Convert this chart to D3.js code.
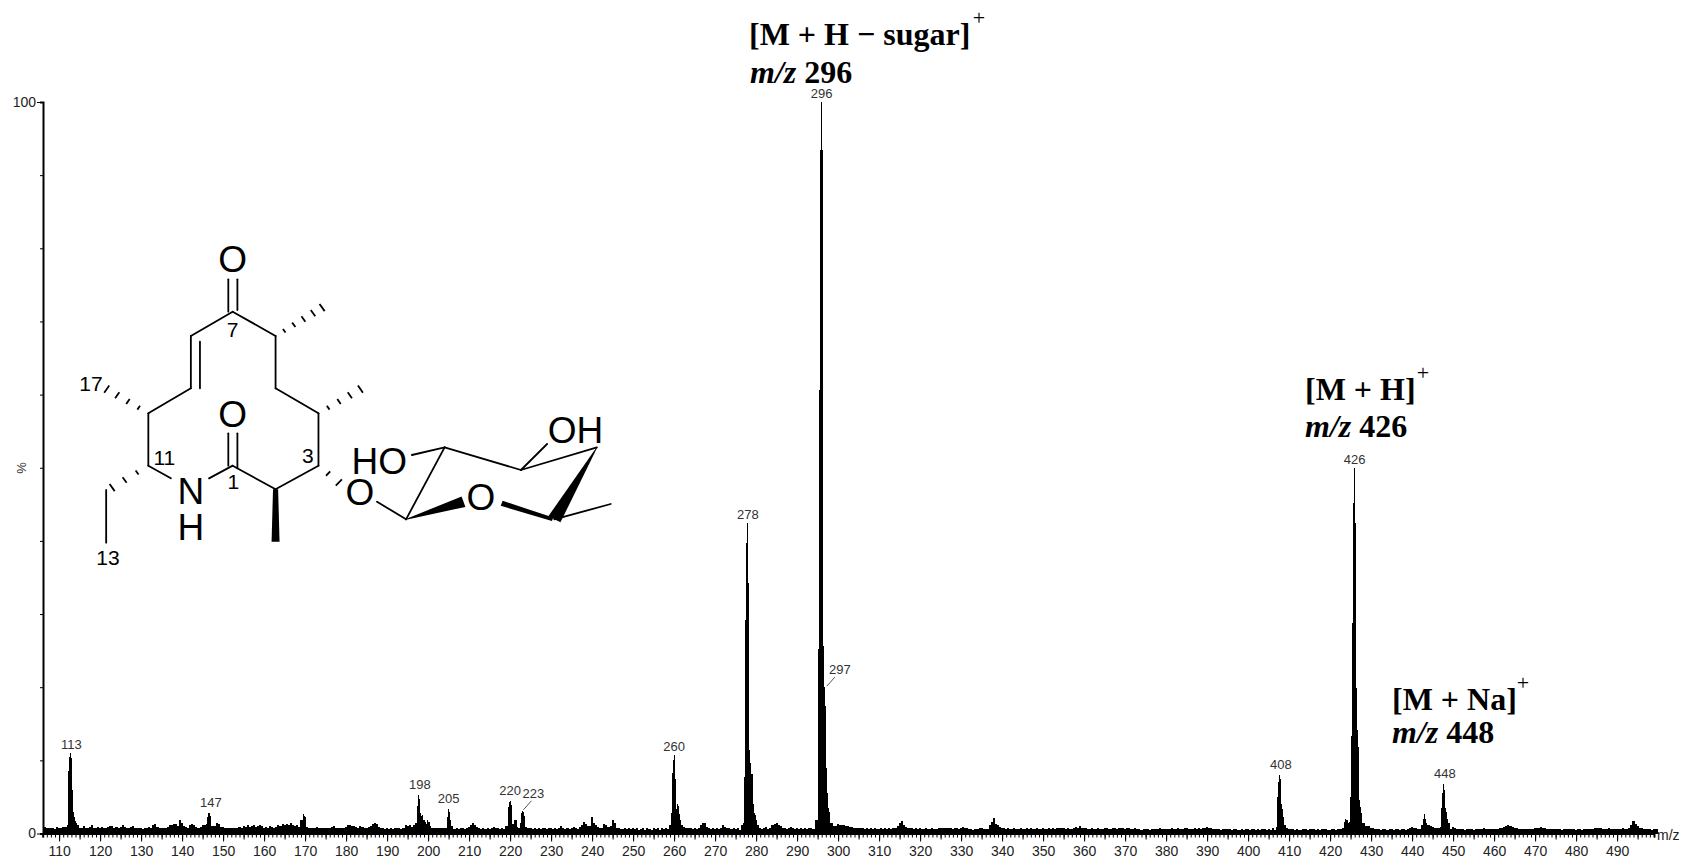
<!DOCTYPE html>
<html>
<head>
<meta charset="utf-8">
<title>MS spectrum</title>
<script src="https://cdn.jsdelivr.net/npm/d3@7"></script>
<style>
html, body { margin: 0; background: #fff; }
svg { display: block; }
text { font-family: "Liberation Sans", Arial, sans-serif; }
.note { font-family: "Liberation Serif", "Times New Roman", serif; font-size: 32px; font-weight: bold; fill: #000; }
.note .it { font-style: italic; }
.plus { font-family: "Liberation Serif", serif; font-size: 22px; fill: #000; text-anchor: middle; }
.axis text { font-size: 14px; fill: #222; }
.axis line, .axis path { stroke: #000; }
.peak-label { font-size: 13px; fill: #333; text-anchor: middle; }
.mol { font-size: 37px; fill: #000; text-anchor: middle; }
.mol-num { font-size: 21px; fill: #000; text-anchor: middle; }
</style>
</head>
<body>
<svg id="chart" width="1684" height="859"></svg>
<script>
var width = 1684,
    height = 859;

// spectrum background, one value per 0.5 m/z starting at 106, 10 m/z to a row
var profileStart = 106;
var profile = [
 .6,.9,.7,.8,.7,.8,.6,.9,
 .8,.7,.9,.7,1, .8,.9,.7,.8,.9, .8,.7,1,.8,.7, .9,1.2,.8,.7,.9,
 .8,.9,.8,.7,.9, 1,1,.8,.9,.7, .9,1.1,.9,.8,.7, .9,1,.7,.8,.7,
 .7,.6,.8,.8,.9, .8,1.2,1.3,.9,.7, .8,.7,.8,.9,1.1, 1.2,1.3,1.3,1,1.8,
 1.5,1,.9,.8,1.2, 1.3,1.2,.9,.8,.9, 1.1,1.2,1.3,1.4,1.4, .9,1,1.4,1.3,.9,
 .9,.8,.7,.8,.7, .8,.7,.8,.9,.8, 1,.9,1.1,.9,1, 1.1,.9,1,1.1,1,
 .8,.9,.8,1,.9, .8,.9,1.1,1,1.3, 1.1,1.3,1.2,1.4,1.2, 1,1.1,.9,1.2,1.7,
 .9,.7,.8,.7,.8, .7,.9,.7,.8,.7, .8,.7,.8,.9,1, .7,.7,.8,.7,.8,
 .9,1.2,1.1,1,1, .9,.8,1,.9,.8, .7,.9,1,1.3,1.4, 1.3,.9,.7,.7,.6,
 .7,.6,.7,.6,.7, .8,.7,.6,.8,1.1, 1,1.2,.9,1.2,1.5, 1.6,.9,.7,.7,.9,
 1.2,.9,.7,.8,.7, .8,.7,.7,.8,1.2, 1.4,1,.7,.6,.7, .6,.7,.8,.6,.7,
 .9,1.1,1.5,1.1,.9, .7,.6,.7,.6,.7, .6,.7,.9,.8,.7, .6,.7,.6,.7,.8,
 .8,.9,.8,.8,.8, .8,.8,.8,.8,.7, .7,.6,.7,.6,.7, .6,.7,.8,.6,.7,
 .7,.6,.7,.6,.7, 1,.8,.6,.7,.6, .7,.9,.8,.6,.9, 1.2,1.6,1.3,1,1,
 2.2,1.5,1.1,.9,.7, .8,1.3,1.1,.9,1, 1.9,1.5,.8,.7,.6, .6,.7,.6,.7,.6,
 .7,.6,.7,.5,.6, .7,.5,.7,.6,.5, .7,.6,.7,.5,.8, .6,.7,.6,.5,.7,
 1,1,1,1,1, .9,.8,.7,.8,.6, .7,.6,.7,1.1,1.4, 1.4,.9,.7,.6,.7,
 .6,.7,.6,.7,1.1, .9,.8,.7,.6,.7, .6,.7,.5,.6,.7, .6,.7,.6,.8,1,
 1,.8,.7,.6,.8, .9,.6,.7,1.1,1.3, 1.4,1.2,1,.8,.7, .6,.7,.9,.8,.6,
 .7,.6,.7,.6,.7, .6,.8,.7,.6,.8, 1,1,1,1,1, 1,1,1,1,1,
 1.3,1.2,1.2,1.1,1, 1,.9,.9,.8,.8, .7,.8,.7,.6,.7, .6,.7,.6,.7,.6,
 .6,.7,.6,.7,.6, .7,.6,.8,.8,1, 1.5,1.7,1.2,.9,.8, .8,.7,.6,.7,.6,
 .7,.6,.6,.7,.6, .6,.7,.6,.6,.7, .8,.8,.7,.8,.7, .7,.6,.7,.7,.6,
 .8,.9,.8,.7,.6, .6,.5,.6,.6,.8, .7,.6,.6,.6,1.1, 1.6,2.1,1.3,1.1,.9,
 .8,.7,.6,.7,.6, .6,.7,.6,.6,.7, .6,.6,.7,.6,.7, .6,.6,.7,.6,.6,
 .7,.6,.6,.7,.6, .7,.6,.8,.7,.7, .7,.6,.7,.6,.6, .7,.9,.7,1,.8,
 .7,.7,.6,.6,.7, .6,.6,.7,.6,.6, .7,.7,.6,.6,.8, .7,.6,.7,.8,.7,
 .6,.7,.7,.6,.6, .7,.6,.6,.5,.6, .6,.6,.5,.6,.6, .6,.6,.7,.6,.6,
 .6,.6,.6,.7,.6, .6,.7,.6,.6,.7, .7,.6,.6,.6,.7, .6,.7,.6,.8,.8,
 .9,.8,.7,.6,.6, .6,.6,.5,.6,.6, .6,.6,.5,.6,.6, .5,.5,.6,.5,.6,
 .6,.5,.6,.6,.5, .6,.5,.6,.6,.5, .6,.5,.7,.5,.6, .6,.5,.6,.7,.7,
 .6,.6,.6,.5,.6, .5,.5,.6,.6,.5, .6,.6,.6,.5,.6, .5,.6,.6,.6,.5,
 .5,.6,.6,.5,.6, .6,.7,.8,.8,1, 1,1,1,1,1, 1,1,1,1,1,
 .8,.7,.6,.6,.6, .5,.6,.6,.5,.6, .6,.5,.6,.6,.5, .6,.6,.5,.6,.8,
 .9,.8,.7,.6,.6, .6,.7,.6,.6,.6, .9,.8,.7,.7,.6, .8,.6,.6,.6,.6,
 .9,.7,.6,.6,.6, .6,.5,.6,.6,.6, .5,.6,.6,.6,.6, .7,.6,.6,.6,.6,
 .6,.6,.6,.7,.7, .9,1,1.1,1,.9, .8,.7,.6,.6,.6, .6,.6,.6,.6,.6,
 .7,.8,.8,.9,.8, .7,.6,.6,.6,.6, .6,.6,.6,.5,.6, .6,.6,.6,.6,.6,
 .5,.6,.6,.5,.6, .6,.6,.6,.6,.7, .8,.7,.7,.6,.6, .6,.7,.6,.6,.6,
 .6,.6,.6,.7,.6, .6,.8,1.1,1.7,1.3, 1,.8,.7,.6,.6, .6,.6,.5,.6,.6,
 .6
];

// sharper peaks, read at 0.25 m/z
var peakMz = [
 111.75,112,112.25,112.5,112.75,113,113.25,113.5,113.75,114,114.25,114.5,
 146,146.25,146.5,146.75,147,147.25,
 169.25,169.5,169.75,170,170.25,
 197.25,197.5,197.75,198,198.25,198.5,198.75,199,199.25,199.5,199.75,200,200.25,200.5,
 204.5,204.75,205,205.25,205.5,205.75,
 219.25,219.5,219.75,220,220.25,220.5,220.75,221,221.25,221.5,221.75,222,222.25,222.5,222.75,223,223.25,223.5,223.75,
 259,259.25,259.5,259.75,260,260.25,260.5,260.75,261,261.25,261.5,261.75,262,
 276.75,277,277.25,277.5,277.75,278,278.25,278.5,278.75,279,279.25,279.5,279.75,280,280.25,
 294.75,295,295.25,295.5,295.75,296,296.25,296.5,296.75,297,297.25,297.5,297.75,298,298.25,298.5,
 407,407.25,407.5,407.75,408,408.25,408.5,408.75,409,
 423.25,423.5,423.75,424,424.5,424.75,425,425.25,425.5,425.75,426,426.25,426.5,426.75,427,427.25,427.5,427.75,428,428.25,
 442.5,442.75,443,443.25,443.5,444,444.5,
 447,447.25,447.5,447.75,448,448.25,448.5,448.75,449
];
var peakInt = [
 .9,1.2,8.5,10.5,11,10.3,6,3,2.2,1.7,1.4,1.2,
 1.3,2.2,2.8,2.8,2.4,1,
 1.8,2.6,2.4,2.2,.9,
 1.4,3.8,5.3,4.7,2.8,2.4,2.5,1.9,1.6,1.3,1.8,1.6,1.6,1,
 .7,2.2,3.4,3,1.8,1,
 1,3.6,4.3,4.5,3.9,1.3,1.3,1.8,1.9,1.9,.9,.7,.8,1.5,2.8,3.1,3,2.4,.9,
 1.1,2.8,8.3,10,10.7,7.5,3.4,4,3.8,2.6,1.8,1.1,1.1,
 1.2,1.5,7.7,29.2,39.7,42.4,34.2,11.4,9.6,8.2,4,2.8,2.5,1.8,1.2,
 1.9,1.9,25.2,60.6,93.4,100,93.4,25.6,20,17.4,9,5.5,3.5,3,1.5,1.4,
 .9,5,7,8,7.5,4,3.4,2.2,1.2,
 .8,1.6,2,1.8,1.5,1.6,5,13.3,28.8,45.2,50,42.4,19.9,14.2,11.8,4.6,3.6,2.8,1.5,1.4,
 1.1,2,2.6,2,1.4,1.2,1,
 .9,3.5,5.5,6.7,6,3.5,3,2,1.4
];

var xTickValues = d3.range(110, 500, 10);
var yTickValues = d3.range(0, 101, 10);

var labelMz = [113,147,198,205,220,223,260,278,296,297,408,426,448];
var labelInt = [11,2.8,5.3,3.4,4.5,3.1,10.7,42.4,100,20,8,50,6.7];

var svg = d3.select("#chart");

var x = d3.scaleLinear().domain([106, 499]).range([42.7, 1654]);
var y = d3.scaleLinear().domain([0, 100]).range([833.5, 102]);

// merge background and sharp peaks
var peakPoints = peakMz.map(function(m, i) { return [m, peakInt[i]]; });
var points = profile.map(function(v, i) { return [profileStart + i * 0.5, v]; })
    .filter(function(p) {
        return !peakMz.some(function(m) { return Math.abs(m - p[0]) < 0.3; });
    })
    .concat(peakPoints)
    .sort(function(a, b) { return a[0] - b[0]; });

var area = d3.area()
    .curve(d3.curveStep)
    .x(function(d) { return x(d[0]); })
    .y0(y(0))
    .y1(function(d) { return y(d[1]); });

svg.append("path")
    .datum(points)
    .attr("d", area)
    .attr("fill", "#000")
    .attr("shape-rendering", "crispEdges");

// x axis, three tick lengths
var xMinor = d3.axisBottom(x).tickValues(d3.range(106, 500, 1)).tickSize(4).tickFormat("");
svg.append("g").attr("class", "axis")
    .attr("transform", "translate(0," + y(0) + ")")
    .call(xMinor)
    .select(".domain").attr("stroke-width", 2);

var xFive = d3.axisBottom(x).tickValues(d3.range(110, 500, 5)).tickSize(6).tickFormat("");
svg.append("g").attr("class", "axis")
    .attr("transform", "translate(0," + y(0) + ")")
    .call(xFive)
    .select(".domain").remove();

var xAxis = d3.axisBottom(x).tickValues(xTickValues).tickSize(8).tickPadding(5);
svg.append("g").attr("class", "axis")
    .attr("transform", "translate(0," + y(0) + ")")
    .call(xAxis)
    .select(".domain").remove();

svg.append("text").attr("class", "axis-title")
    .attr("x", 1657).attr("y", 840)
    .attr("font-size", 14).attr("fill", "#222")
    .text("m/z");

// y axis
var yAxis = d3.axisLeft(y).tickValues(yTickValues).tickSize(3)
    .tickFormat(function(d) { return d == 0 || d == 100 ? d : ""; });
var yG = svg.append("g").attr("class", "axis")
    .attr("transform", "translate(43,0)")
    .call(yAxis);
yG.select(".domain").attr("stroke-width", 2);
yG.selectAll(".tick").filter(function(d) { return d == 0 || d == 100; })
    .select("line").attr("x2", -6);
yG.selectAll(".tick text").attr("x", -7);

svg.append("text")
    .attr("transform", "translate(26,468) rotate(-90)")
    .attr("text-anchor", "middle")
    .attr("font-size", 13).attr("fill", "#333")
    .text("%");

// peak labels
var labels = svg.append("g").selectAll("text")
    .data(labelMz)
    .enter().append("text")
    .attr("class", "peak-label")
    .attr("x", function(d, i) {
        if (d == 297) return x(d) + 14;
        if (d == 223) return x(d) + 11;
        return x(d);
    })
    .attr("y", function(d, i) {
        if (d == 297 || d == 223) return y(labelInt[i]) - 13;
        return y(labelInt[i]) - (labelInt[i] > 10 ? 4 : 6);
    })
    .text(function(d) { return d; });

// leaders for the two labels pushed aside
svg.append("g").selectAll("line")
    .data([297, 223])
    .enter().append("line")
    .attr("x1", function(d) { return x(d) + 1; })
    .attr("y1", function(d) { return y(labelInt[labelMz.indexOf(d)]) - 1; })
    .attr("x2", function(d) { return x(d) + 9; })
    .attr("y2", function(d) { return y(labelInt[labelMz.indexOf(d)]) - 10; })
    .attr("stroke", "#555");

// ion annotations
var notes = [
    {line1: "[M + H \u2212 sugar]", mz: "296", x1: 749, y1: 45, x2: 750, y2: 83, px: 979, py: 25},
    {line1: "[M + H]", mz: "426", x1: 1305, y1: 400, x2: 1305, y2: 437, px: 1423, py: 380},
    {line1: "[M + Na]", mz: "448", x1: 1392, y1: 710, x2: 1392, y2: 743, px: 1523, py: 690}
];
notes.forEach(function(n) {
    svg.append("text").attr("class", "note").attr("x", n.x1).attr("y", n.y1).text(n.line1);
    var t = svg.append("text").attr("class", "note").attr("x", n.x2).attr("y", n.y2);
    t.append("tspan").attr("class", "it").text("m/z ");
    t.append("tspan").text(n.mz);
    svg.append("text").attr("class", "plus").attr("x", n.px).attr("y", n.py).text("+");
});

// structure, in its own drawing units
var molX = d3.scaleLinear().domain([0, 1568]).range([60, 630]);
var molY = d3.scaleLinear().domain([0, 1080]).range([220, 580]);

var bonds = [
 [463,178,463,275],[488,178,488,270],[475,275,360,348],[360,348,360,505],[385,365,385,505],
 [360,505,243,580],[243,580,243,737],[243,737,305,775],[410,775,475,737],
 [463,640,463,737],[488,640,488,745],[475,737,593,808],[593,808,711,737],[711,737,711,580],
 [711,580,593,505],[593,505,593,348],[593,348,475,275],[127,810,127,968],
 [872,845,952,898],[952,898,1058,682],[1058,682,968,705],[1058,682,1268,750],
 [1268,750,1340,672],[1268,750,1477,682],[1360,898,1515,852]
];
var wedges = [
 [593,808,593,965,14,22],[952,898,1110,845,2,33],[1477,682,1360,898,2,38],[1215,850,1355,898,16,11]
];
var hashes = [
 [593,348,725,260,5],[711,580,830,505,4],[243,580,125,505,4],[243,737,140,805,3],[711,737,770,790,2]
];
var atoms = [
 ["O",475,118],["O",475,582],["N",360,812],["H",360,920],["O",825,815],
 ["HO",878,722],["O",1158,830],["OH",1418,630]
];
var numbers = [["7",475,327],["11",287,712],["1",477,783],["3",682,706],["17",85,490],["13",132,1012]];

var mol = svg.append("g").attr("stroke-linecap", "round");
mol.selectAll("line.bond").data(bonds).enter().append("line")
    .attr("class", "bond")
    .attr("x1", function(d) { return molX(d[0]); })
    .attr("y1", function(d) { return molY(d[1]); })
    .attr("x2", function(d) { return molX(d[2]); })
    .attr("y2", function(d) { return molY(d[3]); })
    .attr("stroke", "#000").attr("stroke-width", 1.8);

mol.selectAll("polygon").data(wedges).enter().append("polygon")
    .attr("fill", "#000")
    .attr("points", function(d) {
        var dx = d[2] - d[0], dy = d[3] - d[1], len = Math.sqrt(dx * dx + dy * dy);
        var nx = -dy / len, ny = dx / len;
        return [
            [d[0] + nx * d[4] / 2, d[1] + ny * d[4] / 2],
            [d[2] + nx * d[5] / 2, d[3] + ny * d[5] / 2],
            [d[2] - nx * d[5] / 2, d[3] - ny * d[5] / 2],
            [d[0] - nx * d[4] / 2, d[1] - ny * d[4] / 2]
        ].map(function(p) { return molX(p[0]) + "," + molY(p[1]); }).join(" ");
    });

hashes.forEach(function(h) {
    var dx = h[2] - h[0], dy = h[3] - h[1], len = Math.sqrt(dx * dx + dy * dy);
    var nx = -dy / len, ny = dx / len;
    d3.range(h[4]).forEach(function(i) {
        var t = (i + 0.9) / h[4], half = 5 + 8 * t;
        t = Math.min(t, 0.97);
        var cx = h[0] + dx * t, cy = h[1] + dy * t;
        mol.append("line")
            .attr("x1", molX(cx - nx * half)).attr("y1", molY(cy - ny * half))
            .attr("x2", molX(cx + nx * half)).attr("y2", molY(cy + ny * half))
            .attr("stroke", "#000").attr("stroke-width", 1.8)
            .attr("stroke-linecap", "butt");
    });
});

svg.append("g").selectAll("text").data(atoms).enter().append("text")
    .attr("class", "mol")
    .attr("x", function(d) { return molX(d[1]); })
    .attr("y", function(d) { return molY(d[2]) + 13; })
    .text(function(d) { return d[0]; });

svg.append("g").selectAll("text").data(numbers).enter().append("text")
    .attr("class", "mol-num")
    .attr("x", function(d) { return molX(d[1]); })
    .attr("y", function(d) { return molY(d[2]) + 7.5; })
    .text(function(d) { return d[0]; });
</script>
</body>
</html>
